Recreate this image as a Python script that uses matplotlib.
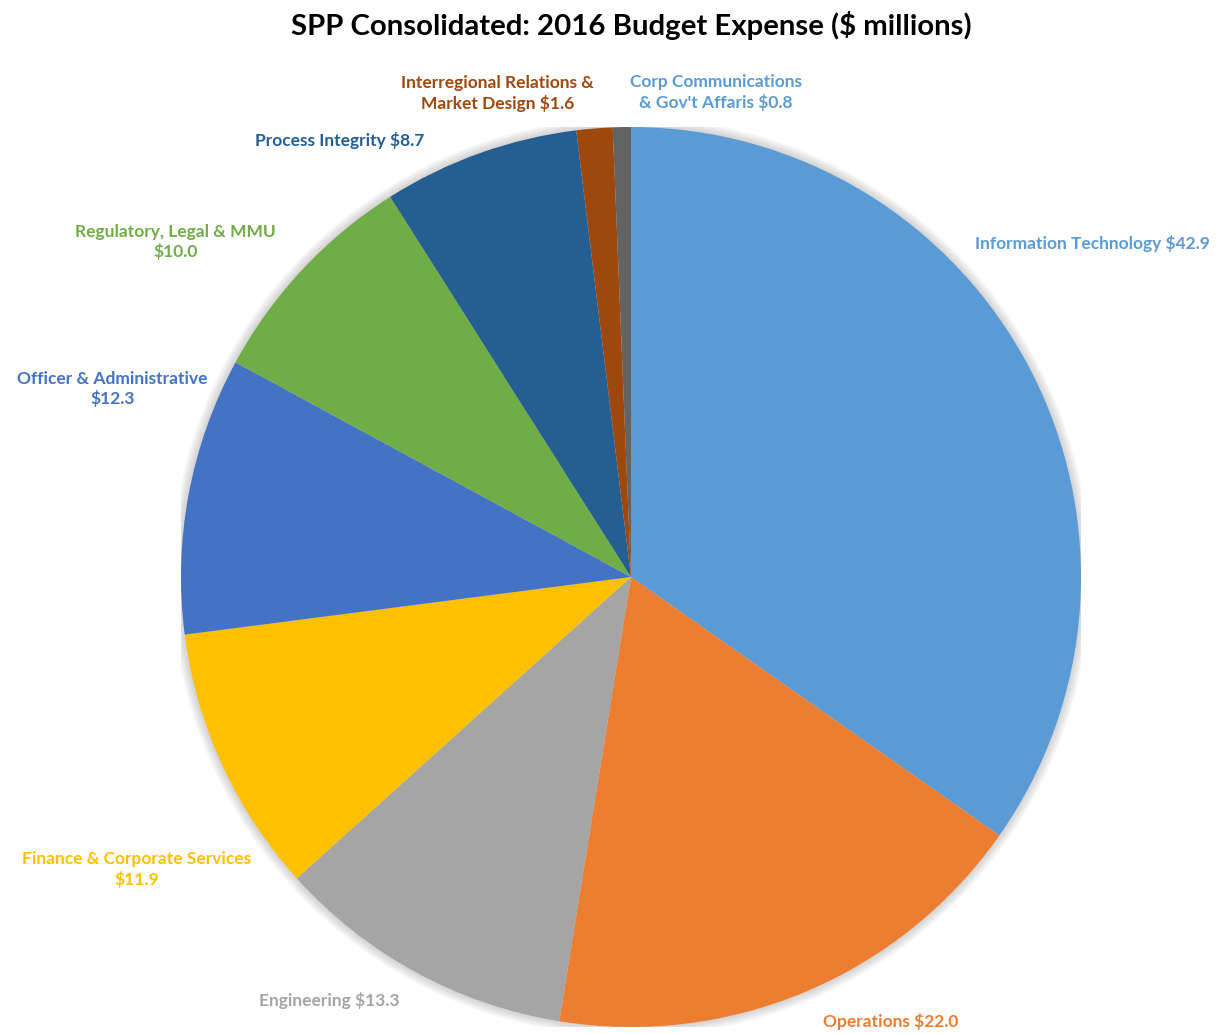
import matplotlib
matplotlib.use("Agg")
from matplotlib import pyplot as plt
from matplotlib.patches import Circle

# data
categories = ["Information Technology", "Operations", "Engineering",
              "Finance & Corporate Services", "Officer & Administrative",
              "Regulatory, Legal & MMU", "Process Integrity",
              "Interregional Relations &\nMarket Design", "Corp Communications\n& Gov't Affaris"]
values = [42.9, 22.0, 13.3, 11.9, 12.3, 10.0, 8.7, 1.6, 0.8]
label_text = ["Information Technology $42.9", "Operations $22.0", "Engineering $13.3",
              "Finance & Corporate Services\n$11.9", "Officer & Administrative\n$12.3",
              "Regulatory, Legal & MMU\n$10.0", "Process Integrity $8.7",
              "Interregional Relations &\nMarket Design $1.6",
              "Corp Communications\n& Gov't Affaris $0.8"]

colors = ["#5B9BD5", "#ED7D31", "#A5A5A5", "#FFC000", "#4472C4",
          "#70AD47", "#255E91", "#9E480E", "#636363"]
text_colors = ["#5B9BD5", "#ED7D31", "#A5A5A5", "#FFC000", "#4472C4",
               "#70AD47", "#255E91", "#9E480E", "#5B9BD5"]

# label layout (pie radius = 1)
label_pos = [(0.764, 0.742), (0.576, -0.987), (-0.671, -0.942), (-1.098, -0.650),
             (-1.153, 0.418), (-1.013, 0.745), (-0.647, 0.969), (-0.296, 1.075),
             (0.189, 1.077)]
label_ha = ["left", "center", "center", "center", "center", "center", "center",
            "center", "center"]

plt.rcParams['font.family'] = ['Lato', 'DejaVu Sans']

fig = plt.figure(figsize=(12.18, 10.34), dpi=100)
ax = fig.add_axes([631/1218 - 450/1218, 7/1034, 900/1218, 900/1034])

# soft halo behind the pie
for k in range(1, 8):
    ax.add_patch(Circle((0, 0), 1 + k * 0.003, color='gray', alpha=0.05,
                        lw=0, zorder=0))

ax.pie(values, colors=colors, startangle=90, counterclock=False, radius=1,
       wedgeprops=dict(linewidth=0, zorder=1))
ax.set_xlim(-1, 1)
ax.set_ylim(-1, 1)
ax.set_aspect('auto')
ax.axis('off')

for txt, (x, y), ha, c in zip(label_text, label_pos, label_ha, text_colors):
    ax.text(x, y, txt, ha=ha, va='center', color=c, fontsize=12.5,
            fontweight='bold', linespacing=1.25, clip_on=False)

fig.text(0.518, 0.975, "SPP Consolidated: 2016 Budget Expense ($ millions)",
         ha='center', va='center', fontsize=21.2, fontweight='bold', color='black')

plt.savefig("out.png", dpi=100)
